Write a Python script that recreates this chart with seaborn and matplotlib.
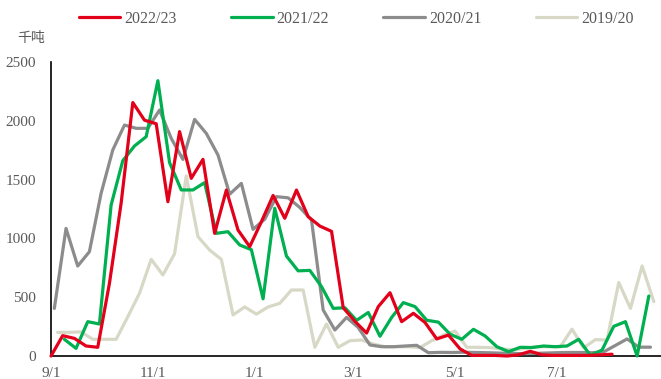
import matplotlib
matplotlib.use("Agg")
import matplotlib.pyplot as plt
import numpy as np
import pandas as pd
import seaborn as sns

# Weekly volumes (thousand tonnes), one list per marketing season
seasons = ["2022/23", "2021/22", "2020/21", "2019/20"]
first_week = {
    "2022/23": "2022-09-01",
    "2021/22": "2021-09-09",
    "2020/21": "2020-09-03",
    "2019/20": "2019-09-05",
}
vol_2022_23 = [0, 173, 150, 85, 74, 618, 1300, 2155, 2005, 1975, 1312, 1908, 1511,
               1672, 1043, 1411, 1071, 930, 1142, 1365, 1171, 1411, 1185, 1105, 1060,
               410, 295, 195, 420, 538, 292, 363, 285, 145, 178, 60, 5, 5, 5, 0, 10,
               40, 10, 5, 5, 5, 5, 10, 15]
vol_2021_22 = [142, 65, 292, 272, 1284, 1661, 1786, 1865, 2341, 1645, 1412, 1412,
               1474, 1043, 1057, 944, 904, 486, 1256, 850, 724, 728, 590, 405, 410,
               303, 370, 168, 328, 454, 420, 304, 288, 185, 142, 227, 170, 79, 37, 74,
               72, 85, 79, 85, 142, 5, 51, 252, 292, 0, 510]
vol_2020_21 = [405, 1085, 765, 887, 1383, 1752, 1964, 1936, 1936, 2092, 1851, 1672,
               2012, 1893, 1709, 1376, 1468, 1077, 1163, 1355, 1345, 1263, 1156, 391,
               221, 328, 242, 94, 79, 79, 85, 91, 28, 31, 30, 32, 30, 28, 25, 22, 20,
               22, 25, 28, 30, 30, 28, 35, 90, 145, 75, 75]
vol_2019_20 = [201, 201, 205, 142, 142, 142, 334, 533, 822, 689, 869, 1531, 1015,
               901, 822, 349, 417, 356, 417, 448, 561, 561, 74, 272, 74, 130, 136, 102,
               79, 79, 79, 72, 130, 178, 212, 74, 74, 71, 60, 51, 65, 79, 79, 79, 228,
               70, 139, 136, 625, 405, 765, 462]
volumes = {
    "2022/23": vol_2022_23,
    "2021/22": vol_2021_22,
    "2020/21": vol_2020_21,
    "2019/20": vol_2019_20,
}
colors = {
    "2022/23": "#E2001A",
    "2021/22": "#00B050",
    "2020/21": "#8C8C8C",
    "2019/20": "#D8D8C6",
}
tick_days = [0, 61, 122, 181, 242, 303, 365]
tick_labels = ["9/1", "11/1", "1/1", "3/1", "5/1", "7/1", ""]
y_ticks = [0, 500, 1000, 1500, 2000, 2500]

# Place every week on a common Sep-1-based season axis
frames = []
for season in seasons:
    start = pd.Timestamp(first_week[season])
    origin = pd.Timestamp(year=start.year, month=9, day=1)
    dates = pd.date_range(start, periods=len(volumes[season]), freq="7D")
    frames.append(pd.DataFrame({
        "season": season,
        "day": (dates - origin).days,
        "value": volumes[season],
    }))
df = pd.concat(frames, ignore_index=True)

sns.set_style("white")
plt.rcParams["font.family"] = ["Liberation Serif", "Noto Sans CJK SC"]

fig = plt.figure(figsize=(6.61, 3.79), dpi=100)
ax = fig.add_axes([51 / 661, 23 / 379, 609.5 / 661, 294 / 379])

for i, season in enumerate(seasons):
    sns.lineplot(data=df[df["season"] == season], x="day", y="value",
                 color=colors[season], linewidth=2.3, ax=ax, label=season,
                 zorder=10 - i, clip_on=False, legend=False)

ax.set_xlim(0, 365)
ax.set_ylim(0, 2500)
ax.set_xticks(tick_days)
ax.set_xticklabels(tick_labels)
ax.set_yticks(y_ticks)
ax.set_xlabel("")
ax.set_ylabel("")
for side in ("top", "right"):
    ax.spines[side].set_visible(False)
for side in ("left", "bottom"):
    ax.spines[side].set_color("black")
    ax.spines[side].set_linewidth(1.2)
ax.tick_params(axis="both", direction="out", length=4, width=1, color="black",
               labelcolor="#595959", labelsize=11)
ax.tick_params(axis="y", pad=7)
ax.tick_params(axis="x", pad=4)

handles = ax.get_lines()[:4]
fig.legend(handles, seasons, loc="center", bbox_to_anchor=(0.539, 0.95), ncol=4,
           frameon=False, handlelength=2.6, handletextpad=0.25, columnspacing=3.4,
           fontsize=11.5, labelcolor="#595959")

fig.text(31 / 661, 1 - 38 / 379, "千吨", ha="center", va="center", fontsize=10,
         color="#595959", family=["Noto Sans CJK SC"])

fig.savefig("out.png", dpi=100)
